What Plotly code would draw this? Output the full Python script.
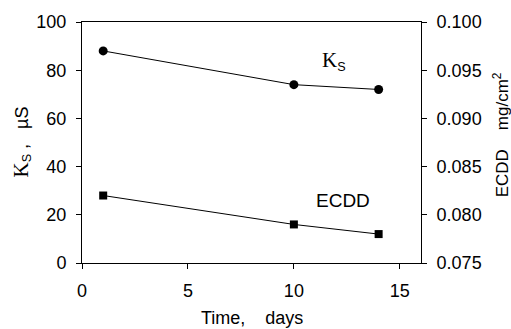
import plotly.graph_objects as go

time_days = [1, 10, 14]
ks_values = [88, 74, 72]            # left axis, µS
ecdd_values = [0.082, 0.079, 0.078]  # right axis, mg/cm^2

x_ticks = [0, 5, 10, 15]
y_left_ticks = [0, 20, 40, 60, 80, 100]
y_right_ticks = [0.075, 0.080, 0.085, 0.090, 0.095, 0.100]
y_right_labels = ["0.075", "0.080", "0.085", "0.090", "0.095", "0.100"]

FONT = "Liberation Sans, Arial, sans-serif"
SERIF = "Liberation Serif, Times New Roman, serif"

fig = go.Figure()
fig.add_trace(go.Scatter(
    x=time_days, y=ks_values, mode="lines+markers",
    line=dict(color="black", width=1),
    marker=dict(symbol="circle", size=9, color="black"),
    showlegend=False))
fig.add_trace(go.Scatter(
    x=time_days, y=ecdd_values, mode="lines+markers", yaxis="y2",
    line=dict(color="black", width=1),
    marker=dict(symbol="square", size=8, color="black"),
    showlegend=False))

axis_common = dict(showgrid=False, zeroline=False, linecolor="black", linewidth=1,
                   ticks="outside", ticklen=5, tickcolor="black", tickwidth=1,
                   tickfont=dict(family=FONT, size=18, color="black"))

fig.update_layout(
    width=511, height=329,
    margin=dict(l=82, r=90, t=18, b=66),
    paper_bgcolor="white", plot_bgcolor="white",
    xaxis=dict(range=[0, 16], tickvals=x_ticks, mirror=True, ticklabelstandoff=6,
               **axis_common),
    yaxis=dict(range=[0, 100], tickvals=y_left_ticks, ticklabelstandoff=6, **axis_common),
    yaxis2=dict(range=[0.075, 0.100], tickvals=y_right_ticks, ticktext=y_right_labels,
                overlaying="y", side="right", ticklabelstandoff=6, **axis_common),
    annotations=[
        dict(text="Time,    days", xref="paper", yref="paper", x=0.5, y=0,
             yshift=-55, showarrow=False, yanchor="middle",
             font=dict(family=FONT, size=18, color="black")),
        dict(text="<span style='font-family:Liberation Serif;font-size:21px'>K</span><sub>S</sub> ,   µS",
             xref="paper", yref="paper", x=0, y=0.5, xshift=-61, showarrow=False,
             textangle=-90, xanchor="center", yanchor="middle",
             font=dict(family=FONT, size=18, color="black")),
        dict(text="ECDD    mg/cm<sup>2</sup>",
             xref="paper", yref="paper", x=1, y=0.53, xshift=80, showarrow=False,
             textangle=-90, xanchor="center", yanchor="middle",
             font=dict(family=FONT, size=17, color="black")),
        dict(text="<span style='font-family:Liberation Serif;font-size:21px'>K</span><sub>S</sub>",
             x=11.9, y=84, xref="x", yref="y", showarrow=False,
             font=dict(family=FONT, size=18, color="black")),
        dict(text="ECDD", x=12.3, y=26, xref="x", yref="y", showarrow=False,
             font=dict(family=FONT, size=19, color="black")),
    ],
)

fig.write_html("out.html")
